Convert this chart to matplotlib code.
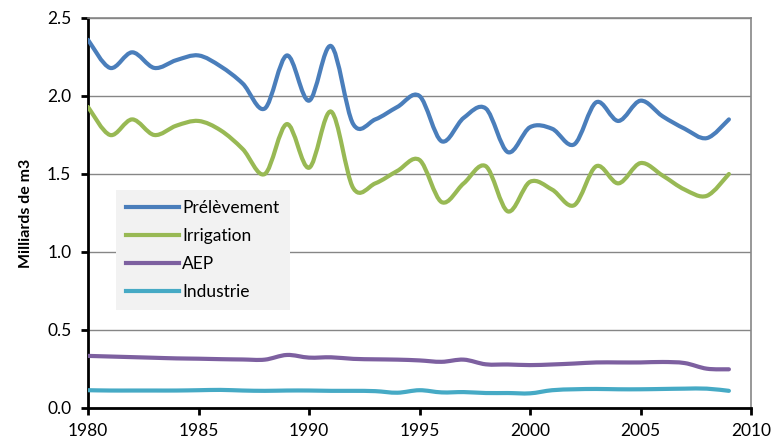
import numpy as np
import matplotlib
matplotlib.use("Agg")
import matplotlib.pyplot as plt
from matplotlib.path import Path
from matplotlib.patches import PathPatch
from matplotlib.lines import Line2D

years = list(range(1980, 2010))
prelevement = [2.36, 2.18, 2.28, 2.18, 2.23, 2.26, 2.19, 2.08, 1.92, 2.26, 1.97, 2.32,
               1.82, 1.85, 1.93, 2.00, 1.71, 1.86, 1.92, 1.64, 1.80, 1.79, 1.69, 1.96,
               1.84, 1.97, 1.87, 1.79, 1.73, 1.85]
irrigation = [1.93, 1.75, 1.85, 1.75, 1.81, 1.84, 1.78, 1.66, 1.50, 1.82, 1.54, 1.90,
              1.41, 1.44, 1.52, 1.59, 1.32, 1.44, 1.55, 1.26, 1.45, 1.40, 1.30, 1.55,
              1.44, 1.57, 1.49, 1.40, 1.36, 1.50]
aep = [0.334, 0.330, 0.326, 0.322, 0.318, 0.316, 0.313, 0.311, 0.310, 0.340, 0.323, 0.325,
       0.315, 0.312, 0.310, 0.305, 0.296, 0.310, 0.280, 0.279, 0.275, 0.279, 0.285, 0.292,
       0.292, 0.292, 0.295, 0.288, 0.252, 0.248]
industrie = [0.114, 0.112, 0.112, 0.112, 0.112, 0.114, 0.116, 0.112, 0.110, 0.112, 0.112, 0.110,
             0.110, 0.108, 0.098, 0.114, 0.100, 0.102, 0.096, 0.096, 0.094, 0.114, 0.120, 0.122,
             0.120, 0.120, 0.122, 0.124, 0.124, 0.110]

series = [("Prélèvement", prelevement, "#4a7ebb"),
          ("Irrigation", irrigation, "#98b954"),
          ("AEP", aep, "#7d60a0"),
          ("Industrie", industrie, "#46aac5")]

plt.rcParams['font.family'] = ['Lato', 'DejaVu Sans']

fig = plt.figure(figsize=(7.76, 4.46), dpi=100)
ax = fig.add_axes([88/776, 1-408/446, (751-88)/776, (408-18)/446])


def smooth_path(x, y):
    x = np.asarray(x, float)
    y = np.asarray(y, float)
    n = len(x)
    verts = [(x[0], y[0])]
    codes = [Path.MOVETO]
    for i in range(n - 1):
        im1 = max(i - 1, 0)
        ip2 = min(i + 2, n - 1)
        c1 = (x[i] + (x[i+1] - x[im1]) / 6, y[i] + (y[i+1] - y[im1]) / 6)
        c2 = (x[i+1] - (x[ip2] - x[i]) / 6, y[i+1] - (y[ip2] - y[i]) / 6)
        verts += [c1, c2, (x[i+1], y[i+1])]
        codes += [Path.CURVE4] * 3
    return Path(verts, codes)


handles = []
for name, vals, col in series:
    p = PathPatch(smooth_path(years, vals), fill=False, edgecolor=col, lw=3,
                  capstyle='round', joinstyle='round', zorder=3)
    ax.add_patch(p)
    handles.append(Line2D([], [], color=col, lw=3, label=name))

ax.set_xlim(1980, 2010)
ax.set_ylim(0, 2.5)
ax.set_xticks(range(1980, 2011, 5))
ax.set_yticks(np.arange(0, 2.51, 0.5))
ax.set_yticklabels([f"{v:.1f}" for v in np.arange(0, 2.51, 0.5)])
ax.yaxis.grid(True, color="#868686", lw=1)
ax.set_axisbelow(True)
for s in ['left', 'bottom']:
    ax.spines[s].set_color('black')
    ax.spines[s].set_linewidth(2)
for s in ['top', 'right']:
    ax.spines[s].set_color('#868686')
    ax.spines[s].set_linewidth(1.2)
ax.tick_params(axis='both', which='both', direction='out', length=5, width=2,
               color='black', labelsize=12.5, pad=6)
ax.tick_params(axis='y', pad=7)
ax.set_ylabel("Milliards de m3", fontsize=11.5, fontweight='bold', labelpad=10)

leg = ax.legend(handles=handles, loc='upper left',
                bbox_to_anchor=((116-88)/663, (408-190)/390),
                frameon=True, fancybox=False, fontsize=12.5, handlelength=3.0,
                handletextpad=0.2, labelspacing=0.68, borderpad=0.6,
                borderaxespad=0)
leg.get_frame().set_facecolor('#f2f2f2')
leg.get_frame().set_edgecolor('none')
leg.get_frame().set_alpha(1)

fig.savefig("out.png", dpi=100)
